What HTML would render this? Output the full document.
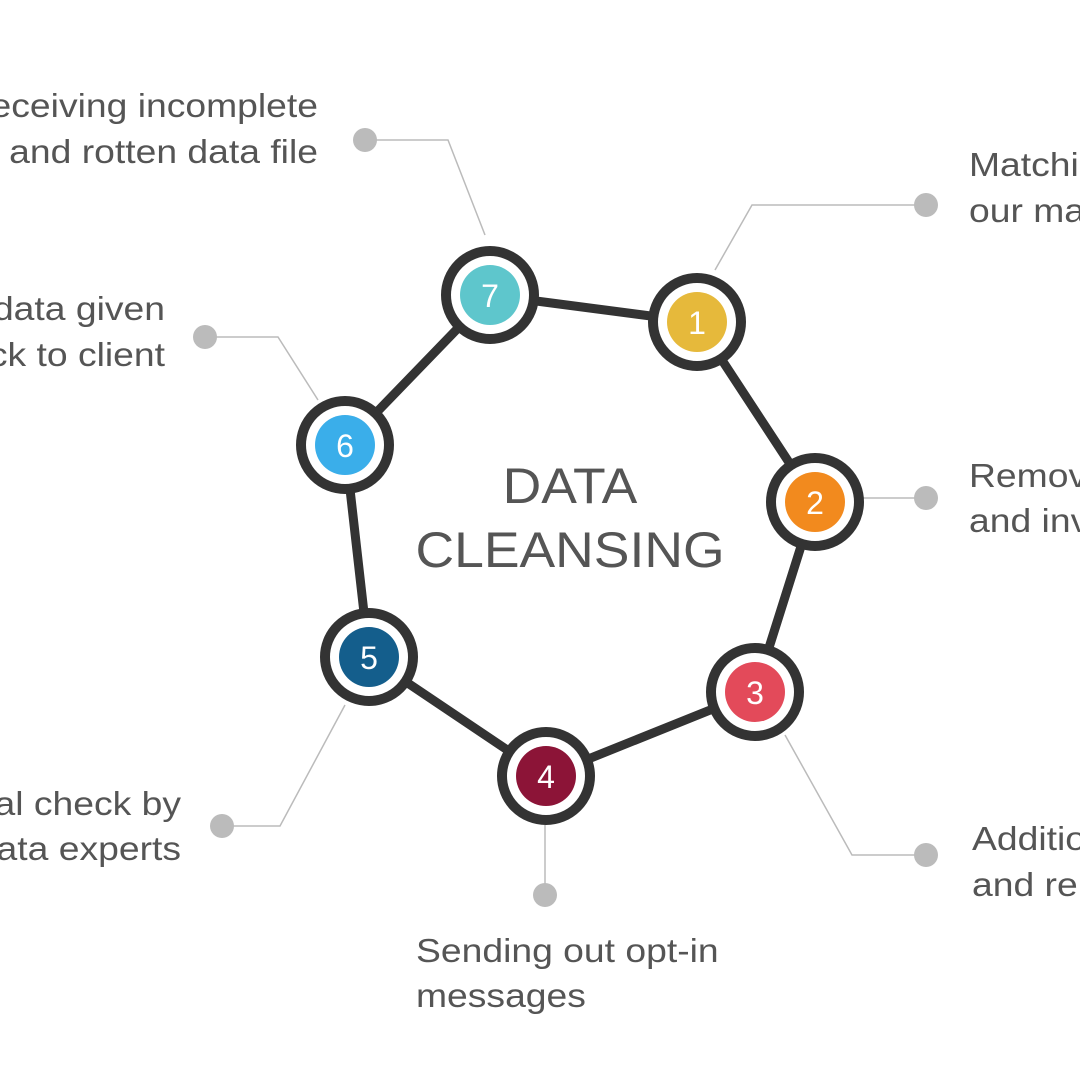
<!DOCTYPE html><html><head><style>body{margin:0;background:#fff}</style></head><body>
<svg width="1080" height="1080" xmlns="http://www.w3.org/2000/svg" font-family="Liberation Sans, sans-serif">
<rect width="1080" height="1080" fill="#fff"/>
<g stroke="#bbb" stroke-width="1.5" fill="none">
<polyline points="365,140 448,140 485,235"/>
<polyline points="926,205 752,205 715,270"/>
<polyline points="926,498 863,498"/>
<polyline points="926,855 852,855 785,735"/>
<polyline points="545,895 545,825"/>
<polyline points="222,826 280,826 345,705"/>
<polyline points="205,337 278,337 318,400"/>
</g>
<g fill="#bbb">
<circle cx="365" cy="140" r="12"/><circle cx="926" cy="205" r="12"/><circle cx="926" cy="498" r="12"/>
<circle cx="926" cy="855" r="12"/><circle cx="545" cy="895" r="12"/><circle cx="222" cy="826" r="12"/><circle cx="205" cy="337" r="12"/>
</g>
<polygon points="697,322 815,502 755,692 546,776 369,657 345,445 490,295" fill="none" stroke="#333" stroke-width="9" stroke-linejoin="round"/>
<g stroke="#333" stroke-width="10" fill="#fff">
<circle cx="697" cy="322" r="44"/><circle cx="815" cy="502" r="44"/><circle cx="755" cy="692" r="44"/>
<circle cx="546" cy="776" r="44"/><circle cx="369" cy="657" r="44"/><circle cx="345" cy="445" r="44"/><circle cx="490" cy="295" r="44"/>
</g>
<circle cx="697" cy="322" r="30" fill="#e6b93b"/><circle cx="815" cy="502" r="30" fill="#f28a1e"/>
<circle cx="755" cy="692" r="30" fill="#e34a5a"/><circle cx="546" cy="776" r="30" fill="#8c1437"/>
<circle cx="369" cy="657" r="30" fill="#145e8c"/><circle cx="345" cy="445" r="30" fill="#3aaeea"/>
<circle cx="490" cy="295" r="30" fill="#5ec6cc"/>
<g fill="#fff" font-size="32" text-anchor="middle">
<text x="697" y="334">1</text><text x="815" y="514">2</text><text x="755" y="704">3</text><text x="546" y="788">4</text>
<text x="369" y="669">5</text><text x="345" y="457">6</text><text x="490" y="307">7</text>
</g>
<g fill="#555" font-size="50" text-anchor="middle">
<text transform="translate(570,503) scale(1.07,1)">DATA</text>
<text transform="translate(570,567) scale(1.07,1)">CLEANSING</text>
</g>
<g fill="#555" font-size="33">
<g text-anchor="end">
<text transform="translate(318,117) scale(1.13,1)">Receiving incomplete</text>
<text transform="translate(318,163) scale(1.13,1)">and rotten data file</text>
<text transform="translate(165,320) scale(1.13,1)">Final data given</text>
<text transform="translate(165,366) scale(1.13,1)">back to client</text>
<text transform="translate(181,815) scale(1.13,1)">Manual check by</text>
<text transform="translate(181,860) scale(1.13,1)">data experts</text>
</g>
<text transform="translate(416,962) scale(1.13,1)">Sending out opt-in</text>
<text transform="translate(416,1007) scale(1.13,1)">messages</text>
<text transform="translate(969,176) scale(1.13,1)">Matching with</text>
<text transform="translate(969,222) scale(1.13,1)">our master data</text>
<text transform="translate(969,487) scale(1.13,1)">Removing duplicates</text>
<text transform="translate(969,532) scale(1.13,1)">and invalid data</text>
<text transform="translate(972,850) scale(1.13,1)">Additional checks</text>
<text transform="translate(972,896) scale(1.13,1)">and repairs</text>
</g>
</svg>
</body></html>
